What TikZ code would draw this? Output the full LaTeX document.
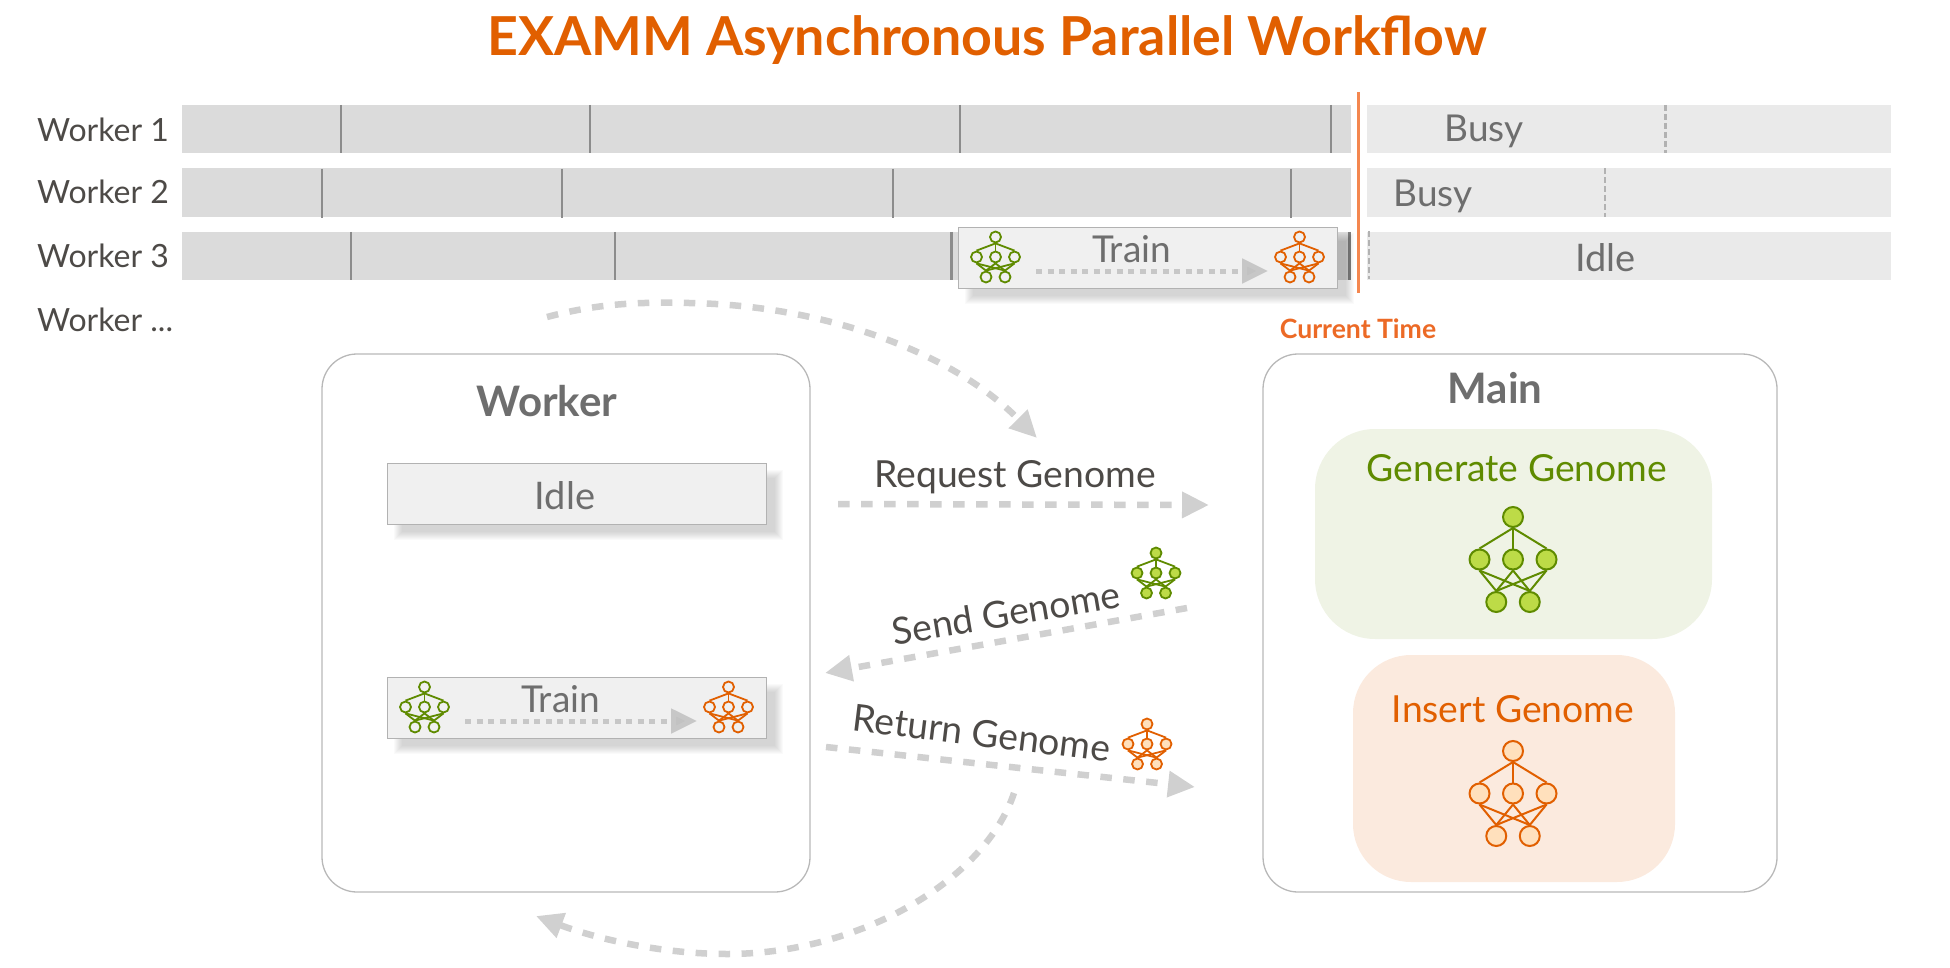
\documentclass[tikz,border=0pt]{standalone}
\usepackage{fontspec}
\usepackage{xcolor}
\usetikzlibrary{arrows.meta}
\setmainfont{Lato}
\definecolor{rust}{HTML}{E15F00}
\definecolor{tickorange}{HTML}{F4874F}
\definecolor{nowtextcolor}{HTML}{EC6A26}
\definecolor{leaf}{HTML}{5F8B00}
\definecolor{leaffill}{HTML}{BDDB47}
\definecolor{peachfill}{HTML}{FFE0BC}
\definecolor{barfill}{HTML}{DBDBDB}
\definecolor{barlight}{HTML}{EAEAEA}
\definecolor{flowgray}{HTML}{D0D0D0}
\definecolor{inktext}{HTML}{4D4A47}
\definecolor{softtext}{HTML}{6E6E6E}
\newcommand{\sized}[1]{\fontsize{#1pt}{#1pt}\selectfont}
\tikzset{
  label/.style={anchor=base,inner sep=0pt},
  panel/.style={draw=black!28,line width=1.3pt,rounded corners=35pt},
  flow/.style={draw=flowgray,line width=6.5pt,dash pattern=on 11.5pt off 11.5pt,
    -{Triangle[length=27pt,width=25pt,fill=flowgray]}},
  boxed/.style={draw=black!30,line width=1.4pt,fill=black!6}
}
% network icon: name, centre, dx, dy, node size, line, fill, line width
\newcommand{\genomenet}[8]{
  \begin{scope}[shift={(#2)}]
    \foreach \n/\x/\y in {a/0/-#4,b/-#3/0,c/0/0,d/#3/0,e/-0.5*#3/#4,f/0.5*#3/#4}
      \node[circle,inner sep=0pt,minimum size=#5pt,draw=#6,fill=#7,line width=#8pt]
        (#1\n) at ({\x},\y) {};
    \foreach \s/\t in {a/b,a/c,a/d,b/e,b/f,c/e,c/f,d/e,d/f}
      \draw[#6,line width=#8pt] (#1\s.south) -- (#1\t.north);
  \end{scope}
}
\newcommand{\softshadow}[4]{
  \foreach \g in {4.5,3.5,2.5,1.5,0.5,-0.5,-1.5,-2.5,-3.5}
    \fill[black,opacity=0.019] (#1-\g,#2-\g) rectangle (#3+\g,#4+\g);
}
\newcommand{\trainbox}[3]{
  \begin{scope}[shift={(#2,#3)}]
    \softshadow{11}{11}{391}{72}
    \node[boxed,anchor=north west,minimum width=379pt,minimum height=61pt,inner sep=0pt]
      (#1box) at (0,0) {};
    \node[label,softtext,font=\sized{37}] (#1text) at (173.5,35) {Train};
    \coordinate (#1from) at (78,44);
    \coordinate (#1to) at (310,44);
    \draw[draw=black!22,line width=5pt,dash pattern=on 6pt off 5.5pt,
      -{Triangle[length=26pt,width=24pt,fill=black!24]}] (#1from) -- (#1to);
    \genomenet{#1g}{37.5,30}{19}{20}{11}{leaf}{black!6}{1.8}
    \genomenet{#1o}{341.5,30}{19}{20}{11}{rust}{black!6}{1.8}
  \end{scope}
}

\begin{document}
\begin{tikzpicture}[x=1pt,y=-1pt,line cap=butt]
  \useasboundingbox (0,0) rectangle (1950,968);
  \node[label,rust,font=\bfseries\sized{53.7}] (maintitle) at (987,56) {EXAMM Asynchronous Parallel Workflow};

  % time bars
  \foreach \t/\b in {105/153,168/217,232/280} {
    \fill[barfill] (182,\t) rectangle (1351,\b);
    \fill[barlight] (1367,\t) rectangle (1891,\b);
  }
  \foreach \x in {341,590,960,1331}
    \draw[black!45,line width=2.8pt] (\x,105) -- (\x,153);
  \foreach \x in {322,562,893,1291}
    \draw[black!45,line width=2.8pt] (\x,169) -- (\x,218);
  \foreach \x in {351,615,951.5}
    \draw[black!45,line width=2.8pt] (\x,232) -- (\x,280);
  \draw[black!50,line width=3pt] (1349,232) -- (1349,280);
  \foreach \x/\t/\b in {1665.5/105/153,1605/168/217,1369/231/279}
    \draw[black!30,line width=2.4pt,dash pattern=on 6pt off 3pt] (\x,\t) -- (\x,\b);

  \node[label,anchor=base west,inktext,font=\sized{32}] (rowa) at (37,142) {Worker 1};
  \node[label,anchor=base west,inktext,font=\sized{32}] (rowb) at (37,204) {Worker 2};
  \node[label,anchor=base west,inktext,font=\sized{32}] (rowc) at (37,267) {Worker 3};
  \node[label,anchor=base west,inktext,font=\sized{32}] (rowd) at (37,331) {Worker ...};
  \node[label,softtext,font=\sized{37}] (busya) at (1484,142) {Busy};
  \node[label,softtext,font=\sized{37}] (busyb) at (1433,207) {Busy};
  \node[label,softtext,font=\sized{38}] (idleb) at (1605.5,271) {Idle};

  \trainbox{top}{958}{227}

  \coordinate (nowtop) at (1358,92);
  \coordinate (nowend) at (1358,293);
  \draw[tickorange,line width=3pt] (nowtop) -- (nowend);
  \node[label,font=\bfseries\sized{26.6},color=nowtextcolor] (nowtext) at (1358,338) {Current Time};

  % the two panels
  \node[panel,minimum width=488pt,minimum height=538pt] (workerpanel) at (566,623) {};
  \node[panel,minimum width=514pt,minimum height=538pt] (mainpanel) at (1520,623) {};
  \node[label,softtext,font=\bfseries\sized{42}] (workertitle) at (547,416) {Worker};
  \node[label,softtext,font=\bfseries\sized{42}] (maintext) at (1495,403) {Main};

  \softshadow{398}{474}{778}{535}
  \node[boxed,anchor=north west,minimum width=379pt,minimum height=61pt,inner sep=0pt] (idlebox) at (387,463) {};
  \node[label,softtext,font=\sized{38}] (idletext) at (565,509) {Idle};
  \trainbox{low}{387}{677}

  \node[fill=leaf!10,rounded corners=60pt,minimum width=397pt,minimum height=210pt] (genbox) at (1513.5,534) {};
  \node[fill=rust!13,rounded corners=58pt,minimum width=322pt,minimum height=227pt] (insbox) at (1514,768.5) {};
  \node[label,leaf,font=\sized{37.3}] (gentext) at (1517,481) {Generate Genome};
  \node[label,rust,font=\sized{37.3}] (instext) at (1513,722) {Insert Genome};
  \genomenet{gen}{1513,559.5}{33.5}{42.5}{20}{leaf}{leaffill}{2}
  \genomenet{ins}{1513,793.5}{33.5}{42.5}{20}{rust}{peachfill}{2}

  % message arrows
  \coordinate (reqa) at (838,504);
  \coordinate (reqb) at (1209,505);
  \coordinate (senda) at (1187,608);
  \coordinate (sendb) at (825,673);
  \coordinate (reta) at (826,747);
  \coordinate (retb) at (1195,787);
  \coordinate (loopa) at (547,317);
  \coordinate (loopb) at (689,303);
  \coordinate (loopc) at (1037,438);
  \coordinate (backa) at (1014,793);
  \coordinate (backb) at (727,954);
  \coordinate (backc) at (536,916);
  \draw[flow] (reqa) -- (reqb);
  \draw[flow] (senda) -- (sendb);
  \draw[flow] (reta) -- (retb);
  \draw[flow] (loopa) .. controls (600,303) and (640,302) .. (loopb)
    .. controls (820,305) and (950,350) .. (loopc);
  \draw[flow] (backa) .. controls (985,880) and (860,954) .. (backb)
    .. controls (665,954) and (600,940) .. (backc);

  \node[label,inktext,font=\sized{37.3}] (reqtext) at (1015,487) {Request Genome};
  \node[inner sep=0pt,rotate=9.5,inktext,font=\sized{37.3}] (sendtext) at (1006,613) {Send Genome};
  \node[inner sep=0pt,rotate=-7,inktext,font=\sized{37.3}] (rettext) at (982,733) {Return Genome};
  \genomenet{send}{1156,573}{19}{20}{11}{leaf}{leaffill}{1.8}
  \genomenet{ret}{1147,744}{19}{20}{11}{rust}{peachfill}{1.8}
\end{tikzpicture}
\end{document}
